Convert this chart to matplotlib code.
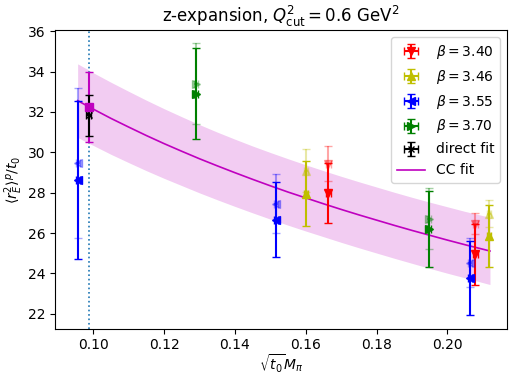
import numpy as np
import matplotlib.pyplot as plt

# ---- ensemble results: (sqrt(t0) M_pi, <r_E^2>/t0, error) ----
beta_labels = [r"$\beta = 3.40$", r"$\beta = 3.46$", r"$\beta = 3.55$", r"$\beta = 3.70$"]
beta_colors = ["r", "y", "b", "g"]
beta_markers = ["v", "^", "<", ">"]

b340_x = [0.1664, 0.2079]
b340_y = [27.99, 24.95]
b340_err = [1.50, 1.50]
b340_y_alt = [29.44, 26.47]
b340_err_alt = [0.85, 0.50]

b346_x = [0.1601, 0.2118]
b346_y = [27.95, 25.85]
b346_err = [1.60, 1.55]
b346_y_alt = [29.09, 26.96]
b346_err_alt = [1.07, 0.66]

b355_x = [0.0957, 0.1517, 0.2063]
b355_y = [28.63, 26.67, 23.77]
b355_err = [3.90, 1.87, 1.85]
b355_y_alt = [29.47, 27.45, 24.54]
b355_err_alt = [3.70, 1.47, 1.20]

b370_x = [0.1290, 0.1948]
b370_y = [32.91, 26.21]
b370_err = [2.25, 1.87]
b370_y_alt = [33.40, 26.72]
b370_err_alt = [2.00, 1.50]

x_err = 0.0006

# physical point
x_phys = 0.0987
direct_fit_y, direct_fit_err = 31.83, 1.00
cc_phys_y, cc_phys_err = 32.25, 1.75

# chiral/continuum fit curve and its error band
fit_x = [0.0956, 0.0987, 0.10, 0.105, 0.11, 0.115, 0.12, 0.125, 0.13, 0.135, 0.14,
         0.145, 0.15, 0.155, 0.16, 0.165, 0.17, 0.175, 0.18, 0.185, 0.19, 0.195,
         0.20, 0.205, 0.212]
fit_y = [32.56, 32.26, 32.14, 31.68, 31.25, 30.83, 30.43, 30.05, 29.68, 29.33, 28.99,
         28.66, 28.34, 28.03, 27.74, 27.45, 27.17, 26.90, 26.64, 26.38, 26.13, 25.89,
         25.65, 25.42, 25.11]
fit_lo = [30.74, 30.45, 30.34, 29.90, 29.49, 29.09, 28.71, 28.35, 27.99, 27.65, 27.32,
          27.00, 26.69, 26.39, 26.10, 25.82, 25.54, 25.27, 25.01, 24.75, 24.50, 24.25,
          24.01, 23.78, 23.45]
fit_hi = [34.38, 34.08, 33.94, 33.47, 33.02, 32.58, 32.16, 31.76, 31.37, 31.00, 30.65,
          30.31, 29.99, 29.68, 29.38, 29.09, 28.81, 28.54, 28.28, 28.02, 27.77, 27.53,
          27.30, 27.07, 26.78]

ensembles = [
    (b340_x, b340_y, b340_err, b340_y_alt, b340_err_alt),
    (b346_x, b346_y, b346_err, b346_y_alt, b346_err_alt),
    (b355_x, b355_y, b355_err, b355_y_alt, b355_err_alt),
    (b370_x, b370_y, b370_err, b370_y_alt, b370_err_alt),
]

fig = plt.figure(figsize=(5.09, 3.77), dpi=100)
ax = fig.add_axes([0.108, 0.128, 0.888, 0.792])

ax.fill_between(fit_x, fit_lo, fit_hi, color="m", alpha=0.2, linewidth=0)
ax.plot(fit_x, fit_y, color="m", lw=1.2, label="CC fit")
ax.axvline(x_phys, color="C0", ls=":", lw=1.2)

for (xs, ys, es, ya, ea), lab, c, mk in zip(ensembles, beta_labels, beta_colors, beta_markers):
    ax.errorbar(xs, ya, yerr=ea, xerr=x_err, fmt=mk, color=c, ms=5.5,
                capsize=3, alpha=0.35, lw=1.5)
    ax.errorbar(xs, ys, yerr=es, xerr=x_err, fmt=mk, color=c, ms=5.5,
                capsize=3, lw=1.5, label=lab)

ax.errorbar([x_phys], [cc_phys_y], yerr=cc_phys_err, fmt="s", color="m",
            ms=5.5, capsize=3, lw=1.5)
ax.errorbar([x_phys], [direct_fit_y], yerr=direct_fit_err, xerr=x_err, fmt="x",
            color="k", ms=5, capsize=3, lw=1.5, label="direct fit")

ax.set_xlim(0.0892, 0.2168)
ax.set_ylim(21.26, 36.05)
ax.set_yticks(np.arange(22, 37, 2))
ax.set_xticks([0.10, 0.12, 0.14, 0.16, 0.18, 0.20])

ax.set_title(r"z-expansion, $Q^2_{\rm cut} = 0.6$ GeV$^2$")
ax.set_xlabel(r"$\sqrt{t_0}M_\pi$", labelpad=0)
ax.set_ylabel(r"$\langle r_E^2 \rangle^p / t_0$", labelpad=2)

handles, labels = ax.get_legend_handles_labels()
order = [labels.index(l) for l in beta_labels + ["direct fit", "CC fit"]]
ax.legend([handles[i] for i in order], [labels[i] for i in order], loc="upper right")

fig.savefig("out.png", dpi=100)
